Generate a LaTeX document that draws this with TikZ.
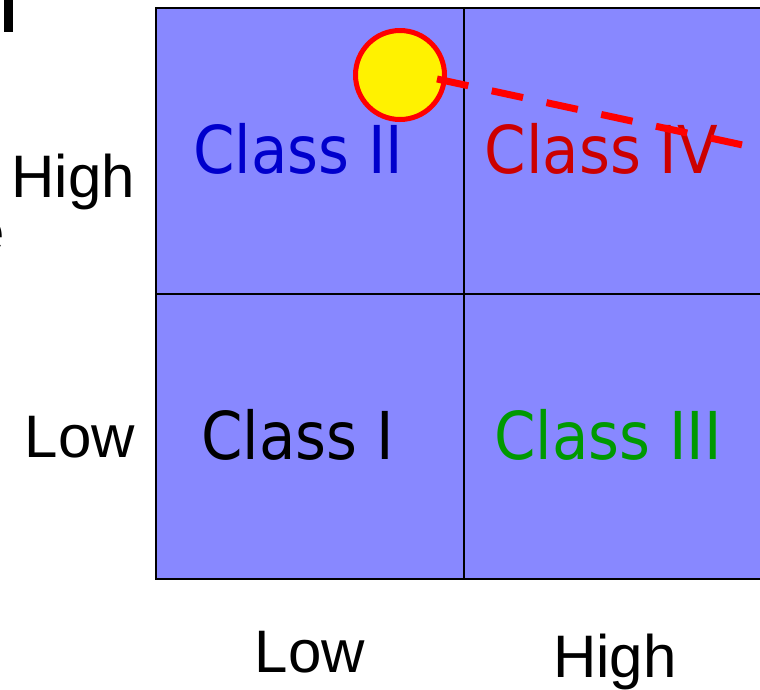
\documentclass[tikz,border=0pt]{standalone}
\usepackage{fontspec}
\setmainfont{Liberation Sans}
\newfontfamily\classfont{DejaVu Sans Condensed}
\definecolor{cellfill}{HTML}{8888FF}
\definecolor{cblue}{HTML}{0000CC}
\definecolor{cred}{HTML}{CC0000}
\definecolor{cgreen}{HTML}{009900}
\tikzset{
  classlbl/.style={inner sep=0pt, anchor=base, font=\classfont\fontsize{66}{72}\selectfont},
  axislbl/.style={inner sep=0pt, font=\fontsize{60}{66}\selectfont},
  gridline/.style={draw=black, line width=2pt},
  marker/.style={circle, draw=red, fill=yellow, line width=5pt, minimum size=89pt, inner sep=0pt},
  trend/.style={draw=red, line width=7pt, dash pattern=on 32pt off 24pt}
}
\begin{document}
\begin{tikzpicture}[x=1pt,y=-1pt]
\useasboundingbox (0,0) rectangle (760,689);
\clip (0,0) rectangle (760,689);
\fill[white] (0,0) rectangle (760,689);
% matrix cells
\fill[cellfill] (156,8) rectangle (800,579);
\draw[gridline] (156,8) rectangle (800,579);
\draw[gridline] (464,8) -- (464,579);
\draw[gridline] (156,294) -- (800,294);
% class labels
\node[classlbl, text=cblue] (c2) at (298.5,173) {Class II};
\node[classlbl, text=cred] (c4) at (601.5,173) {Class IV};
\node[classlbl, text=black] (c1) at (297.5,459) {Class I};
\node[classlbl, text=cgreen] (c3) at (608,459) {Class III};
% axis labels
\node[axislbl, anchor=base east] (yh) at (135,197) {High};
\node[axislbl, anchor=base east] (yl) at (135,457) {Low};
\node[axislbl, anchor=base] (xl) at (310,672) {Low};
\node[axislbl, anchor=base] (xh) at (615,677) {High};
% cut-off fragments at the left edge
\fill[black] (4,0) rectangle (12.5,32);
\node[axislbl, anchor=base east] (frag) at (5.5,252) {e};
% marker and dashed trend
\node[marker] (dot) at (400,75) {};
\coordinate (tstart) at (437,79);
\coordinate (tend) at (745,145.5);
\draw[trend] (tstart) -- (tend);
\end{tikzpicture}
\end{document}
